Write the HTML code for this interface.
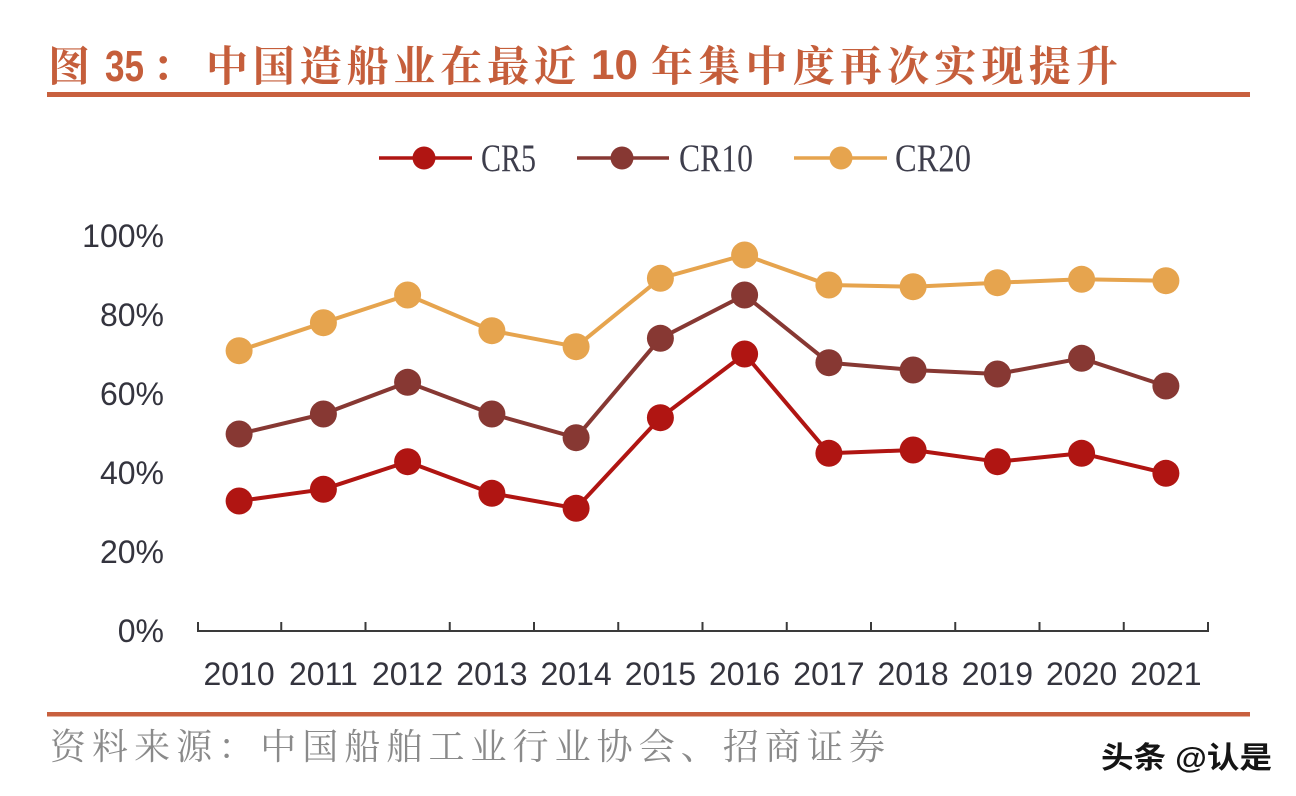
<!DOCTYPE html>
<html>
<head>
<meta charset="utf-8">
<style>
  html,body{margin:0;padding:0;background:#ffffff;}
  body{width:1296px;height:796px;overflow:hidden;}
  svg{display:block;}
</style>
</head>
<body>
<svg width="1296" height="796" viewBox="0 0 1296 796" xmlns="http://www.w3.org/2000/svg">
  <rect x="0" y="0" width="1296" height="796" fill="#ffffff"/>

  <!-- Title -->
  <g fill="#C55E3B" font-weight="bold">
    <text x="48" y="81" font-size="42" font-family="'Noto Serif CJK SC','Noto Sans CJK SC',serif">图</text>
    <text x="105" y="81" font-size="44" font-family="'Liberation Sans',sans-serif" textLength="39" lengthAdjust="spacingAndGlyphs">35</text>
    <text x="152" y="81" font-size="42" font-family="'Liberation Sans','Noto Serif CJK SC',serif">：</text>
    <text x="206" y="81" font-size="42" font-family="'Noto Serif CJK SC','Noto Sans CJK SC',serif" textLength="370" lengthAdjust="spacing">中国造船业在最近</text>
    <text x="591" y="79" font-size="42" font-family="'Liberation Sans',sans-serif" textLength="47" lengthAdjust="spacingAndGlyphs">10</text>
    <text x="651" y="81" font-size="42" font-family="'Noto Serif CJK SC','Noto Sans CJK SC',serif" textLength="467" lengthAdjust="spacing">年集中度再次实现提升</text>
  </g>
  <rect x="47" y="92" width="1203" height="5" fill="#C8603E"/>

  <!-- Legend -->
  <g>
    <line x1="379" y1="158" x2="472" y2="158" stroke="#B01512" stroke-width="3.5"/>
    <circle cx="424" cy="158" r="11.5" fill="#B01512"/>
    <text x="481" y="171" font-size="39" font-family="'Liberation Serif',serif" fill="#3e3e4c" textLength="55" lengthAdjust="spacingAndGlyphs">CR5</text>

    <line x1="577" y1="158" x2="669" y2="158" stroke="#873833" stroke-width="3.5"/>
    <circle cx="622" cy="158" r="11.5" fill="#873833"/>
    <text x="679" y="171" font-size="39" font-family="'Liberation Serif',serif" fill="#3e3e4c" textLength="74" lengthAdjust="spacingAndGlyphs">CR10</text>

    <line x1="794" y1="158" x2="887" y2="158" stroke="#E6A44E" stroke-width="3.5"/>
    <circle cx="841" cy="158" r="11.5" fill="#E6A44E"/>
    <text x="895" y="171" font-size="39" font-family="'Liberation Serif',serif" fill="#3e3e4c" textLength="76" lengthAdjust="spacingAndGlyphs">CR20</text>
  </g>

  <!-- Y axis labels -->
  <g font-size="32" font-family="'Liberation Sans',sans-serif" fill="#34343e" text-anchor="end">
    <text x="164" y="247">100%</text>
    <text x="164" y="326">80%</text>
    <text x="164" y="405">60%</text>
    <text x="164" y="484">40%</text>
    <text x="164" y="563">20%</text>
    <text x="164" y="642">0%</text>
  </g>

  <!-- X axis -->
  <g stroke="#3a3a3a" stroke-width="2">
    <line x1="197" y1="631" x2="1209" y2="631"/>
    <line x1="198" y1="622" x2="198" y2="631"/>
    <line x1="281.25" y1="622" x2="281.25" y2="631"/>
    <line x1="365.5" y1="622" x2="365.5" y2="631"/>
    <line x1="449.75" y1="622" x2="449.75" y2="631"/>
    <line x1="534" y1="622" x2="534" y2="631"/>
    <line x1="618.25" y1="622" x2="618.25" y2="631"/>
    <line x1="702.5" y1="622" x2="702.5" y2="631"/>
    <line x1="786.75" y1="622" x2="786.75" y2="631"/>
    <line x1="871" y1="622" x2="871" y2="631"/>
    <line x1="955.25" y1="622" x2="955.25" y2="631"/>
    <line x1="1039.5" y1="622" x2="1039.5" y2="631"/>
    <line x1="1123.75" y1="622" x2="1123.75" y2="631"/>
    <line x1="1208" y1="622" x2="1208" y2="631"/>
  </g>
  <g font-size="32" font-family="'Liberation Sans',sans-serif" fill="#34343e" text-anchor="middle">
    <text x="239.1" y="685">2010</text>
    <text x="323.4" y="685">2011</text>
    <text x="407.6" y="685">2012</text>
    <text x="491.9" y="685">2013</text>
    <text x="576.1" y="685">2014</text>
    <text x="660.4" y="685">2015</text>
    <text x="744.6" y="685">2016</text>
    <text x="828.9" y="685">2017</text>
    <text x="913.1" y="685">2018</text>
    <text x="997.4" y="685">2019</text>
    <text x="1081.6" y="685">2020</text>
    <text x="1165.9" y="685">2021</text>
  </g>

  <!-- CR20 -->
  <g fill="#E6A44E">
    <polyline fill="none" stroke="#E6A44E" stroke-width="4" stroke-linejoin="round"
      points="239.1,350.7 323.4,322.7 407.6,295 491.9,330.7 576.1,346.7 660.4,278.3 744.6,255 828.9,285 913.1,286.7 997.4,282.7 1081.6,279.3 1165.9,280.7"/>
    <circle cx="239.1" cy="350.7" r="13.5"/>
    <circle cx="323.4" cy="322.7" r="13.5"/>
    <circle cx="407.6" cy="295" r="13.5"/>
    <circle cx="491.9" cy="330.7" r="13.5"/>
    <circle cx="576.1" cy="346.7" r="13.5"/>
    <circle cx="660.4" cy="278.3" r="13.5"/>
    <circle cx="744.6" cy="255" r="13.5"/>
    <circle cx="828.9" cy="285" r="13.5"/>
    <circle cx="913.1" cy="286.7" r="13.5"/>
    <circle cx="997.4" cy="282.7" r="13.5"/>
    <circle cx="1081.6" cy="279.3" r="13.5"/>
    <circle cx="1165.9" cy="280.7" r="13.5"/>
  </g>

  <!-- CR10 -->
  <g fill="#873833">
    <polyline fill="none" stroke="#873833" stroke-width="4" stroke-linejoin="round"
      points="239.1,434 323.4,414 407.6,382.3 491.9,414 576.1,437.7 660.4,338.3 744.6,295 828.9,362.7 913.1,370 997.4,374 1081.6,358.3 1165.9,386"/>
    <circle cx="239.1" cy="434" r="13.5"/>
    <circle cx="323.4" cy="414" r="13.5"/>
    <circle cx="407.6" cy="382.3" r="13.5"/>
    <circle cx="491.9" cy="414" r="13.5"/>
    <circle cx="576.1" cy="437.7" r="13.5"/>
    <circle cx="660.4" cy="338.3" r="13.5"/>
    <circle cx="744.6" cy="295" r="13.5"/>
    <circle cx="828.9" cy="362.7" r="13.5"/>
    <circle cx="913.1" cy="370" r="13.5"/>
    <circle cx="997.4" cy="374" r="13.5"/>
    <circle cx="1081.6" cy="358.3" r="13.5"/>
    <circle cx="1165.9" cy="386" r="13.5"/>
  </g>

  <!-- CR5 -->
  <g fill="#B01512">
    <polyline fill="none" stroke="#B01512" stroke-width="4" stroke-linejoin="round"
      points="239.1,501 323.4,489.3 407.6,461.7 491.9,493.3 576.1,508.3 660.4,417.7 744.6,354 828.9,453.3 913.1,450 997.4,461.7 1081.6,453.3 1165.9,473.3"/>
    <circle cx="239.1" cy="501" r="13.5"/>
    <circle cx="323.4" cy="489.3" r="13.5"/>
    <circle cx="407.6" cy="461.7" r="13.5"/>
    <circle cx="491.9" cy="493.3" r="13.5"/>
    <circle cx="576.1" cy="508.3" r="13.5"/>
    <circle cx="660.4" cy="417.7" r="13.5"/>
    <circle cx="744.6" cy="354" r="13.5"/>
    <circle cx="828.9" cy="453.3" r="13.5"/>
    <circle cx="913.1" cy="450" r="13.5"/>
    <circle cx="997.4" cy="461.7" r="13.5"/>
    <circle cx="1081.6" cy="453.3" r="13.5"/>
    <circle cx="1165.9" cy="473.3" r="13.5"/>
  </g>

  <!-- Bottom rule and source -->
  <rect x="47" y="712" width="1203" height="4.5" fill="#C8603E"/>
  <text x="50" y="759" font-size="36" font-family="'Liberation Serif','Noto Serif CJK SC',serif" fill="#8a8a8a" textLength="835" lengthAdjust="spacing">资料来源：中国船舶工业行业协会、招商证券</text>

  <!-- Watermark -->
  <text x="1101" y="768" font-size="30" font-weight="bold" font-family="'Liberation Sans','Noto Sans CJK SC',sans-serif" fill="#151515" stroke="#ffffff" stroke-width="2" paint-order="stroke" textLength="171" lengthAdjust="spacingAndGlyphs">头条 @认是</text>
</svg>
</body>
</html>
